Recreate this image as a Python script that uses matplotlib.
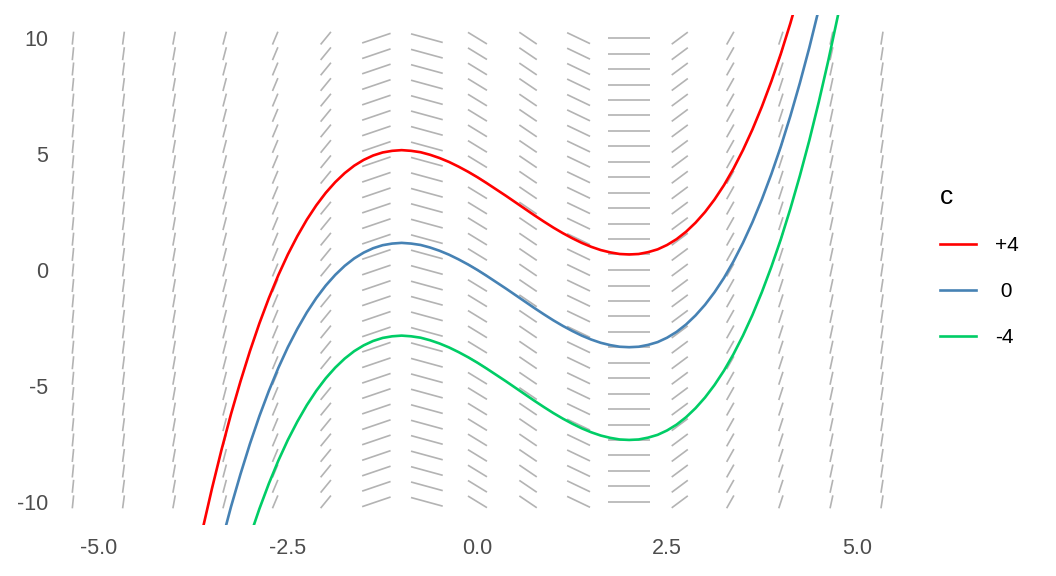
import numpy as np
import matplotlib
matplotlib.use("Agg")
import matplotlib.pyplot as plt
from matplotlib.collections import LineCollection

plt.rcParams['font.family'] = ['Liberation Sans', 'DejaVu Sans']
plt.rcParams['axes.unicode_minus'] = False

# slope field grid (dy/dx depends on x only)
field_x = [-5.333, -4.667, -4.0, -3.333, -2.667, -2.0, -1.333, -0.667, 0.0,
           0.667, 1.333, 2.0, 2.667, 3.333, 4.0, 4.667, 5.333]
field_slope = [31.78, 24.44, 18.0, 12.44, 7.78, 4.0, 1.11, -0.89, -2.0,
               -2.22, -1.56, 0.0, 2.44, 5.78, 10.0, 15.11, 21.11]
field_y = [-10.0, -9.33, -8.67, -8.0, -7.33, -6.67, -6.0, -5.33, -4.67, -4.0,
           -3.33, -2.67, -2.0, -1.33, -0.67, 0.0, 0.67, 1.33, 2.0, 2.67, 3.33,
           4.0, 4.67, 5.33, 6.0, 6.67, 7.33, 8.0, 8.67, 9.33, 10.0]

# solution curves
curve_x = [-4.0, -3.875, -3.75, -3.625, -3.5, -3.375, -3.25, -3.125, -3.0,
           -2.875, -2.75, -2.625, -2.5, -2.375, -2.25, -2.125, -2.0, -1.875,
           -1.75, -1.625, -1.5, -1.375, -1.25, -1.125, -1.0, -0.875, -0.75,
           -0.625, -0.5, -0.375, -0.25, -0.125, 0.0, 0.125, 0.25, 0.375, 0.5,
           0.625, 0.75, 0.875, 1.0, 1.125, 1.25, 1.375, 1.5, 1.625, 1.75,
           1.875, 2.0, 2.125, 2.25, 2.375, 2.5, 2.625, 2.75, 2.875, 3.0,
           3.125, 3.25, 3.375, 3.5, 3.625, 3.75, 3.875, 4.0, 4.125, 4.25,
           4.375, 4.5, 4.625, 4.75, 4.875, 5.0]
curve_p4 = [-17.33, -15.15, -13.11, -11.20, -9.42, -7.76, -6.22, -4.81, -3.5,
            -2.30, -1.21, -0.22, 0.67, 1.46, 2.17, 2.79, 3.33, 3.79, 4.18,
            4.50, 4.75, 4.94, 5.07, 5.14, 5.17, 5.14, 5.08, 4.97, 4.83, 4.66,
            4.46, 4.24, 4.0, 3.74, 3.47, 3.20, 2.92, 2.64, 2.36, 2.09, 1.83,
            1.59, 1.37, 1.17, 1.0, 0.86, 0.76, 0.69, 0.67, 0.69, 0.77, 0.89,
            1.08, 1.33, 1.65, 2.04, 2.5, 3.04, 3.66, 4.37, 5.17, 6.06, 7.05,
            8.14, 9.33, 10.64, 12.06, 13.59, 15.25, 17.03, 18.94, 20.99, 23.17]
curve_0 = [-21.33, -19.15, -17.11, -15.20, -13.42, -11.76, -10.22, -8.81, -7.5,
           -6.30, -5.21, -4.22, -3.33, -2.54, -1.83, -1.21, -0.67, -0.21, 0.18,
           0.50, 0.75, 0.94, 1.07, 1.14, 1.17, 1.14, 1.08, 0.97, 0.83, 0.66,
           0.46, 0.24, 0.0, -0.26, -0.53, -0.80, -1.08, -1.36, -1.64, -1.91,
           -2.17, -2.41, -2.63, -2.83, -3.0, -3.14, -3.24, -3.31, -3.33, -3.31,
           -3.23, -3.11, -2.92, -2.67, -2.35, -1.96, -1.5, -0.96, -0.34, 0.37,
           1.17, 2.06, 3.05, 4.14, 5.33, 6.64, 8.06, 9.59, 11.25, 13.03, 14.94,
           16.99, 19.17]
curve_m4 = [-25.33, -23.15, -21.11, -19.20, -17.42, -15.76, -14.22, -12.81,
            -11.5, -10.30, -9.21, -8.22, -7.33, -6.54, -5.83, -5.21, -4.67,
            -4.21, -3.82, -3.50, -3.25, -3.06, -2.93, -2.86, -2.83, -2.86,
            -2.92, -3.03, -3.17, -3.34, -3.54, -3.76, -4.0, -4.26, -4.53,
            -4.80, -5.08, -5.36, -5.64, -5.91, -6.17, -6.41, -6.63, -6.83,
            -7.0, -7.14, -7.24, -7.31, -7.33, -7.31, -7.23, -7.11, -6.92,
            -6.67, -6.35, -5.96, -5.5, -4.96, -4.34, -3.63, -2.83, -1.94,
            -0.95, 0.14, 1.33, 2.64, 4.06, 5.59, 7.25, 9.03, 10.94, 12.99, 15.17]
curve_labels = ['+4', ' 0', '-4']
curve_colors = ['#FF0000', '#4682B4', '#00CD66']

fig = plt.figure(figsize=(10.56, 5.76), dpi=100)
# panel: ~52..903 px wide, 15..525 px tall
ax = fig.add_axes([0.0492, 0.0885, 0.8059, 0.8855])

# slope segments, fixed length in data units
seg_len = 0.56
segs = []
for x, s in zip(field_x, field_slope):
    dx = seg_len / 2 / np.sqrt(1 + s ** 2)
    dy = s * dx
    for y in field_y:
        segs.append([(x - dx, y - dy), (x + dx, y + dy)])
lc = LineCollection(segs, colors='#B3B3B3', linewidths=1.2, capstyle='butt')
ax.add_collection(lc)

for ys, lab, col in zip([curve_p4, curve_0, curve_m4], curve_labels, curve_colors):
    ax.plot(curve_x, ys, color=col, lw=1.9, label=lab)

ax.set_xlim(-5.61, 5.61)
ax.set_ylim(-11, 11)
ax.set_xticks([-5.0, -2.5, 0.0, 2.5, 5.0])
ax.set_xticklabels(['-5.0', '-2.5', '0.0', '2.5', '5.0'])
ax.set_yticks([-10, -5, 0, 5, 10])
ax.tick_params(length=0, labelsize=15.5, labelcolor='#4D4D4D')
ax.tick_params(axis='x', pad=9)
ax.tick_params(axis='y', pad=2.5)
for sp in ax.spines.values():
    sp.set_visible(False)

leg = fig.legend(title='c', loc='center left', bbox_to_anchor=(0.872, 0.538),
                 frameon=False, fontsize=15, title_fontsize=19,
                 handlelength=1.75, handletextpad=0.9, labelspacing=1.3,
                 alignment='left')

fig.savefig('out.png', dpi=100)
